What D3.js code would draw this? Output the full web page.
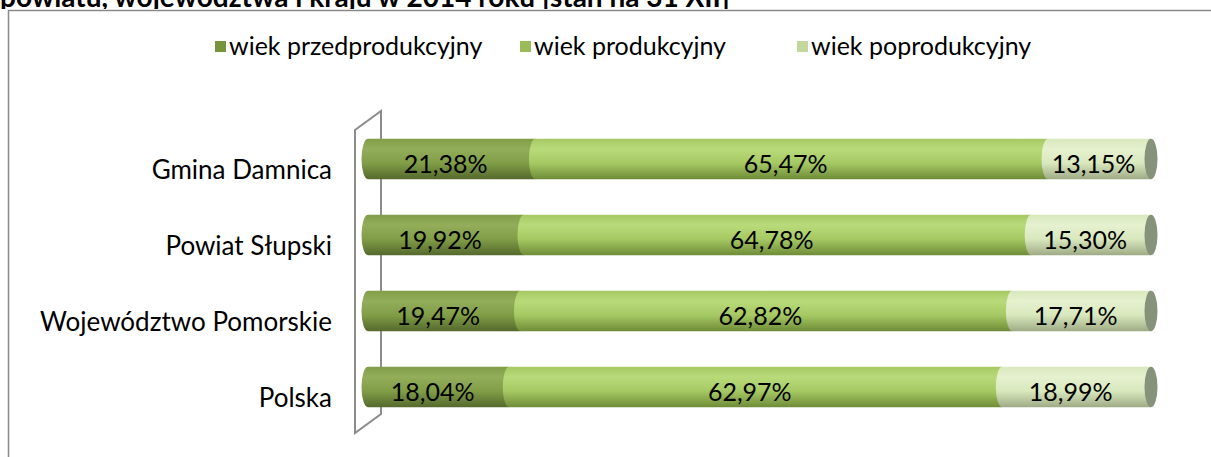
<!DOCTYPE html>
<html>
<head>
<meta charset="utf-8">
<script src="https://cdnjs.cloudflare.com/ajax/libs/d3/7.8.5/d3.min.js"></script>
<style>
  body { margin: 0; background: #fff; }
  svg text { font-family: Lato, "Open Sans", sans-serif; fill: #000; }
</style>
</head>
<body>
<svg id="chart" width="1211" height="457"></svg>
<script>
// data
var categories = ["Gmina Damnica", "Powiat Słupski", "Województwo Pomorskie", "Polska"];
var przedprodukcyjny = [21.38, 19.92, 19.47, 18.04];
var produkcyjny = [65.47, 64.78, 62.82, 62.97];
var poprodukcyjny = [13.15, 15.30, 17.71, 18.99];
var seriesNames = ["wiek przedprodukcyjny", "wiek produkcyjny", "wiek poprodukcyjny"];
var titleText = "powiatu, województwa i kraju w 2014 roku [stan na 31 XII]";

var svg = d3.select("#chart");

// colours of the cylinders: [top highlight, middle, bottom]
var shades = [
  ["#93ad5a", "#819e47", "#55692d"],
  ["#b9da7a", "#a6c963", "#6f8c38"],
  ["#e6f1d0", "#d9e8bd", "#9fab86"]
];
var legendColors = ["#77933c", "#9bbb59", "#c3d69b"];

var defs = svg.append("defs");
shades.forEach(function(s, i) {
  var g = defs.append("linearGradient").attr("id", "grad" + i)
    .attr("x1", 0).attr("y1", 0).attr("x2", 0).attr("y2", 1);
  g.append("stop").attr("offset", "0%").attr("stop-color", s[1]);
  g.append("stop").attr("offset", "25%").attr("stop-color", s[0]);
  g.append("stop").attr("offset", "60%").attr("stop-color", s[1]);
  g.append("stop").attr("offset", "100%").attr("stop-color", s[2]);
});
defs.append("clipPath").attr("id", "titleClip")
  .append("rect").attr("x", 0).attr("y", 0).attr("width", 1211).attr("height", 9);

// cut-off title and frame
svg.append("text").attr("x", 0).attr("y", 7)
  .attr("clip-path", "url(#titleClip)")
  .style("font-weight", "bold").style("font-size", "28px")
  .text(titleText);
svg.append("path").attr("d", "M8.5,457V10.5H1211")
  .attr("fill", "none").attr("stroke", "#8a8a8a").attr("stroke-width", 1.5);

// legend
var legendX = [215, 520, 797];
var legend = svg.selectAll("g.legend").data(seriesNames).enter().append("g")
  .attr("class", "legend")
  .attr("transform", function(d, i) { return "translate(" + legendX[i] + ",41)"; });
legend.append("rect").attr("width", 11).attr("height", 11)
  .attr("fill", function(d, i) { return legendColors[i]; });
legend.append("text").attr("x", 14).attr("y", 14).style("font-size", "25px")
  .text(function(d) { return d; });

// scales
var x = d3.scaleLinear().domain([0, 100]).range([368, 1151]);
var y = d3.scaleBand().domain(categories).range([121, 425]).paddingInner(0.47).paddingOuter(0.235);
var bh = y.bandwidth();
var rx = 6.5;

// 3D wall behind the bars
svg.append("path")
  .attr("d", "M355,130L381,111V414L355,433Z")
  .attr("fill", "none").attr("stroke", "#8c8c8c").attr("stroke-width", 2);

// category labels
svg.selectAll("text.cat").data(categories).enter().append("text")
  .attr("class", "cat")
  .attr("x", 332)
  .attr("y", function(d) { return y(d) + bh / 2 + 20; })
  .attr("text-anchor", "end").style("font-size", "26px")
  .text(function(d) { return d; });

// stacked cylinders
var rows = categories.map(function(c, i) {
  var vals = [przedprodukcyjny[i], produkcyjny[i], poprodukcyjny[i]];
  var x0 = 0;
  return { cat: c, segs: vals.map(function(v, k) {
    var s = { k: k, v: v, x0: x0, x1: x0 + v };
    x0 += v;
    return s;
  }) };
});

var row = svg.selectAll("g.row").data(rows).enter().append("g")
  .attr("class", "row")
  .attr("transform", function(d) { return "translate(0," + y(d.cat) + ")"; });

row.each(function(d) {
  var g = d3.select(this);
  d.segs.forEach(function(s) {
    var xa = x(s.x0), xb = x(s.x1);
    g.append("path")
      .attr("d", "M" + xa + ",0H" + xb + "V" + bh + "H" + xa +
        "A" + rx + "," + (bh / 2) + " 0 0 1 " + xa + ",0Z")
      .attr("fill", "url(#grad" + s.k + ")");
  });
  // end cap
  g.append("ellipse").attr("cx", x(100)).attr("cy", bh / 2)
    .attr("rx", rx).attr("ry", bh / 2).attr("fill", "#86927a");
  // value labels
  d.segs.forEach(function(s) {
    g.append("text")
      .attr("x", x((s.x0 + s.x1) / 2) - 6)
      .attr("y", bh / 2 + 14)
      .attr("text-anchor", "middle").style("font-size", "25px")
      .text(s.v.toFixed(2).replace(".", ",") + "%");
  });
});
</script>
</body>
</html>
